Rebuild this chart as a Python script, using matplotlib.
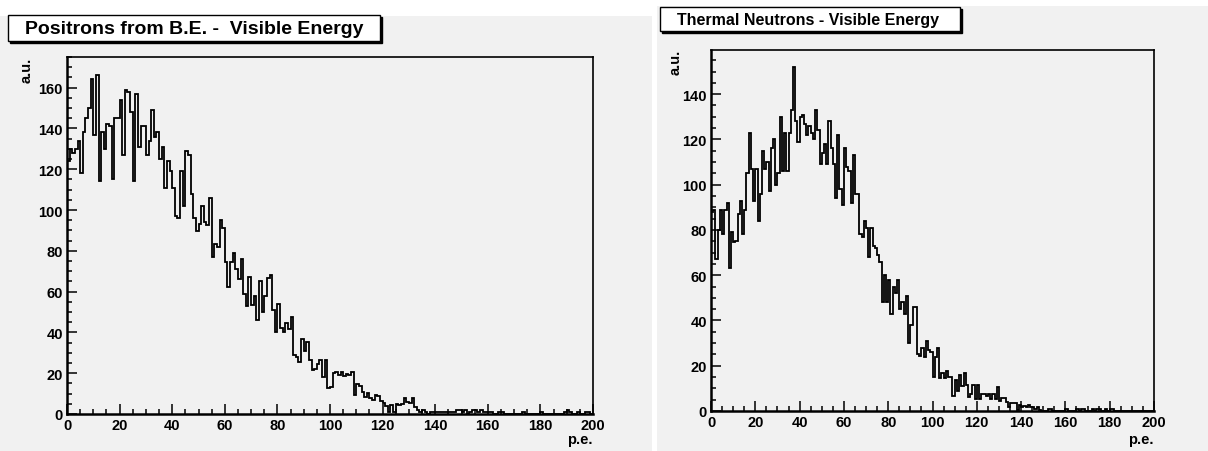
import numpy as np
import matplotlib
matplotlib.use('Agg')
import matplotlib.pyplot as plt
from matplotlib.patches import Rectangle
from matplotlib.ticker import MultipleLocator

# ---------- data (1 p.e. bins, 0-200) ----------
edges = np.arange(0, 201, 1)

# positrons from B.E. - visible energy
positron_counts = [
    124, 130, 128, 130, 134, 118, 138, 145, 150, 164,
    137, 166, 114, 138, 130, 142, 141, 115, 145, 145,
    154, 127, 159, 158, 148, 114, 157, 131, 141, 141,
    127, 134, 149, 136, 138, 125, 131, 111, 124, 119,
    111, 97, 96, 119, 102, 129, 127, 108, 96, 89.5,
    93, 102, 94, 92.5, 106, 77, 83.5, 82, 95, 91,
    74.5, 62.5, 74.5, 79, 71, 66, 76, 59, 53, 67,
    53.5, 58, 46, 65, 50, 58, 66.6, 68, 51, 40,
    54, 42, 40, 44.7, 41.7, 47.5, 29, 28, 25.7, 37,
    31, 35.5, 26.7, 21.8, 22, 24.5, 26.7, 18, 26.7, 12.6,
    13, 20, 20.7, 19, 20.4, 18.8, 19.6, 19, 20.7, 9.3,
    14.7, 13.5, 11, 8.3, 10.3, 7.7, 7, 9.3, 9, 6.5,
    5.4, 4, 1, 4.4, 1, 5, 4.4, 5, 8, 6,
    5.4, 8, 3.3, 2, 1, 2, 1, 0, 1, 1,
    1, 1, 1, 1, 1, 1, 1, 1, 2, 2,
    1, 2, 0, 1, 2, 2, 1, 2, 1, 1,
    1, 1, 0, 0, 1, 1, 0, 0, 0, 0,
    0, 0, 0, 1, 0, 0, 0, 0, 0, 0,
    1, 0, 0, 0, 0, 0, 0, 0, 0, 1,
    2, 1, 0, 0, 1, 0, 0, 1, 1, 0,
]

# thermal neutrons - visible energy
neutron_counts = [
    88, 89, 67, 80, 89, 78, 89, 92, 63, 79,
    74.5, 75, 87, 93, 78, 89, 105, 123, 107, 93,
    107, 84, 96, 115, 107, 110, 97, 116, 120, 100,
    105, 130, 106, 123, 106, 123, 133, 152, 128, 119,
    130, 131, 127, 122, 126, 123, 120, 133, 124, 109,
    114, 118, 109, 128, 116, 109, 94, 122, 98, 91,
    116, 108, 106, 92, 113, 96, 96, 78, 77, 84,
    81, 68, 81, 73, 72, 69, 66, 48, 60, 48,
    58, 43, 55, 52, 58, 45, 48, 43, 51, 30,
    38, 46, 46, 25, 24.5, 28, 24, 31, 27, 26,
    15, 24, 28, 14.7, 17, 14.7, 17.5, 15, 15, 6.7,
    13.5, 9, 16, 11, 17, 11.6, 6, 7.6, 11.3, 5.4,
    11.6, 5.4, 7.6, 7.6, 6.6, 7.6, 5.4, 7.6, 5.4, 10.6,
    4.3, 5.7, 5.7, 4, 1.8, 3.7, 3.7, 3.7, 0.3, 2.8,
    1.8, 2.2, 1.8, 2.5, 1.8, 1.8, 1, 1.8, 0.3, 0,
    0, 0, 1, 1, 0, 0, 0, 0, 0, 0,
    1, 0, 0, 0, 0, 1, 0, 1, 1, 0,
    0, 0, 1, 0, 1, 1, 0, 0, 1, 0,
    1, 1, 0, 0, 0, 0, 0, 0, 0, 0,
    0, 0, 0, 0, 0, 0, 0, 0, 0, 0,
]

titles = ['Positrons from B.E. -  Visible Energy', 'Thermal Neutrons - Visible Energy']
y_max = [175, 159.5]

# ---------- figure (pixel layout helpers) ----------
W, H = 1208, 452
fig = plt.figure(figsize=(W / 100, H / 100), dpi=100)
bg = '#f1f1f1'

def px_rect(x0, y0, x1, y1):
    # pixel box (from top-left) -> figure fraction [l, b, w, h]
    return [x0 / W, 1 - y1 / H, (x1 - x0) / W, (y1 - y0) / H]

def fig_box(x0, y0, x1, y1, **kw):
    l, b, w, h = px_rect(x0, y0, x1, y1)
    r = Rectangle((l, b), w, h, transform=fig.transFigure, **kw)
    fig.patches.append(r)

# gray canvases of the two pads (behind the axes)
fig_box(0, 17, 652, 452, facecolor=bg, edgecolor='none', zorder=-2)
fig_box(657, 7, 1208, 452, facecolor=bg, edgecolor='none', zorder=-2)

tickfont = {'family': ['Liberation Sans', 'DejaVu Sans'], 'weight': 'bold', 'size': 10.5}

def make_pad(axbox, counts, ymax):
    ax = fig.add_axes(px_rect(*axbox))
    ax.set_facecolor(bg)
    ax.stairs(counts, edges, color='black', lw=1.3)
    ax.set_xlim(0, 200)
    ax.set_ylim(0, ymax)
    ax.xaxis.set_major_locator(MultipleLocator(20))
    ax.xaxis.set_minor_locator(MultipleLocator(5))
    ax.yaxis.set_major_locator(MultipleLocator(20))
    ax.yaxis.set_minor_locator(MultipleLocator(5))
    ax.tick_params(which='both', direction='in', top=False, right=False, width=1.1, color='black')
    ax.tick_params(which='major', length=7.5, pad=3)
    ax.tick_params(which='minor', length=3.8)
    for s in ax.spines.values():
        s.set_linewidth(1.2)
    ax.spines['left'].set_linewidth(1.8)
    ax.spines['bottom'].set_linewidth(1.8)
    for lab in ax.get_xticklabels() + ax.get_yticklabels():
        lab.set_fontproperties(tickfont)
    return ax

ax1 = make_pad((67, 58, 593, 415), positron_counts, y_max[0])
ax2 = make_pad((711, 51, 1154, 412), neutron_counts, y_max[1])

# axis titles, ROOT style
labfont = dict(family=['Liberation Sans', 'DejaVu Sans'], weight='bold', size=10.5)
fig.text(27 / W, 1 - 58 / H, 'a.u.', rotation=90, ha='center', va='top', **labfont)
fig.text(593 / W, 1 - 447 / H, 'p.e.', ha='right', va='bottom', **labfont)
fig.text(676 / W, 1 - 50 / H, 'a.u.', rotation=90, ha='center', va='top', **labfont)
fig.text(1154 / W, 1 - 447 / H, 'p.e.', ha='right', va='bottom', **labfont)

# title boxes with shadow
fig_box(10, 18, 382, 44, facecolor='black', edgecolor='black', zorder=2)
fig_box(8, 16, 380, 42, facecolor='white', edgecolor='black', lw=1.0, zorder=3)
fig.text(194 / W, 1 - 29 / H, titles[0], ha='center', va='center', zorder=4,
         family=['Liberation Sans', 'DejaVu Sans'], weight='bold', size=14)

fig_box(662, 10, 962, 34, facecolor='black', edgecolor='black', zorder=2)
fig_box(660, 8, 960, 32, facecolor='white', edgecolor='black', lw=1.0, zorder=3)
fig.text(808 / W, 1 - 20 / H, titles[1], ha='center', va='center', zorder=4,
         family=['Liberation Sans', 'DejaVu Sans'], weight='bold', size=11.5)

fig.savefig('out.png', dpi=100)
